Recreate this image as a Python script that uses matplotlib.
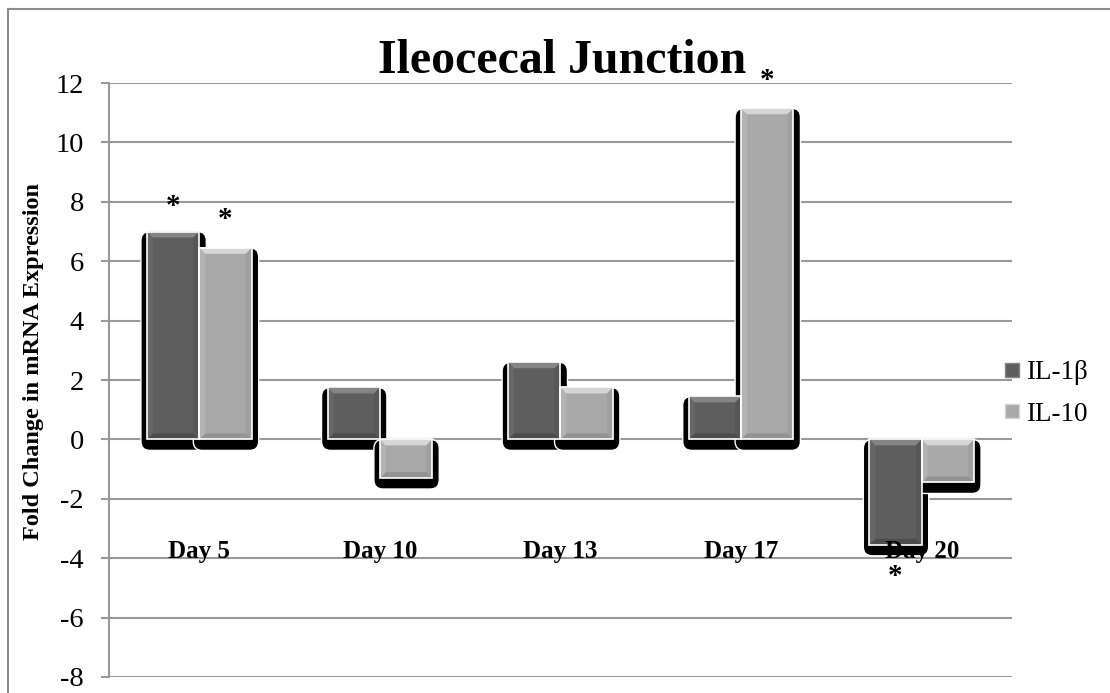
import numpy as np
import matplotlib.pyplot as plt
from matplotlib.patches import Rectangle, Polygon, FancyBboxPatch
from matplotlib.lines import Line2D

plt.rc('font', family='Liberation Serif')
plt.rc('axes', unicode_minus=False)

days = ['Day 5', 'Day 10', 'Day 13', 'Day 17', 'Day 20']
il1b = [7.0, 1.75, 2.6, 1.45, -3.55]
il10 = [6.45, -1.3, 1.75, 11.15, -1.45]
series_names = ['IL-1\u03b2', 'IL-10']
# asterisks: (category index, series index, y position)
stars = [(0, 0, 7.85), (0, 1, 7.4), (3, 1, 12.1), (4, 0, -4.6)]

# main, light bevel, dark bevel
colors = [('#5e5e5e', '#858585', '#4c4c4c'), ('#a8a8a8', '#d6d6d6', '#939393')]

fig = plt.figure(figsize=(11.1, 6.93), dpi=100)
ax = fig.add_axes([0.0982, 0.0231, 0.8135, 0.8571])
ax.set_xlim(0, 5)
ax.set_ylim(-8, 12)

# pixel -> data unit helpers
px_x = 5 / 903.0
px_y = 20 / 594.0

bw = 0.29
offs = [-0.145, 0.145]
x = np.arange(len(days)) + 0.5

ax.set_yticks(np.arange(-8, 13, 2))
ax.set_xticks([])
ax.yaxis.grid(True, color='#999999', linewidth=1.5, zorder=0)
ax.set_axisbelow(True)
for s in ['top', 'right', 'bottom']:
    ax.spines[s].set_visible(False)
ax.spines['left'].set_color('#999999')
ax.spines['left'].set_linewidth(1.5)
ax.tick_params(axis='y', length=6, width=1.5, color='#999999', pad=12, labelsize=20.5)

# shadows first
for si, vals in enumerate([il1b, il10]):
    for i, v in enumerate(vals):
        x0 = x[i] + offs[si] - bw / 2
        lo, hi = min(0, v), max(0, v)
        sh = FancyBboxPatch((x0 - 6 * px_x, lo - 11 * px_y), bw + 13 * px_x, hi - lo + 11 * px_y,
                            boxstyle='round,pad=0,rounding_size=%f' % (9 * px_x),
                            mutation_aspect=px_y / px_x,
                            facecolor='black', edgecolor='white', linewidth=1.0, zorder=2)
        ax.add_patch(sh)

# bars with a simple bevel
for si, vals in enumerate([il1b, il10]):
    main, light, dark = colors[si]
    for i, v in enumerate(vals):
        x0 = x[i] + offs[si] - bw / 2
        x1 = x0 + bw
        lo, hi = min(0, v), max(0, v)
        dx, dy = 6 * px_x, 6 * px_y
        ax.add_patch(Rectangle((x0, lo), bw, hi - lo, facecolor=main, edgecolor='none', zorder=3))
        ax.add_patch(Polygon([(x0, hi), (x1, hi), (x1 - dx, hi - dy), (x0 + dx, hi - dy)],
                             facecolor=light, edgecolor='none', zorder=3))
        ax.add_patch(Polygon([(x0, lo), (x1, lo), (x1 - dx, lo + dy), (x0 + dx, lo + dy)],
                             facecolor=dark, edgecolor='none', zorder=3))
        ax.add_patch(Polygon([(x1, lo), (x1, hi), (x1 - dx, hi - dy), (x1 - dx, lo + dy)],
                             facecolor=dark, edgecolor='none', alpha=0.35, zorder=3))
        ax.add_patch(Polygon([(x0, lo), (x0, hi), (x0 + dx, hi - dy), (x0 + dx, lo + dy)],
                             facecolor=light, edgecolor='none', alpha=0.25, zorder=3))
        ax.add_patch(Rectangle((x0, lo), bw, hi - lo, facecolor='none', edgecolor='white',
                               linewidth=1.2, zorder=4))

# category labels inside the plot
for i, d in enumerate(days):
    ax.text(x[i], -4.0, d, ha='center', va='baseline', fontsize=18, fontweight='bold', zorder=5)

for ci, si, yv in stars:
    ax.text(x[ci] + offs[si], yv, '*', ha='center', va='center', fontsize=21, fontweight='bold', zorder=5)

fig.text(0.506, 0.8947, 'Ileocecal Junction', ha='center', va='baseline',
         fontsize=34.5, fontweight='bold')
fig.text(0.03, 0.478, 'Fold Change in mRNA Expression', rotation=90, ha='center', va='center',
         fontsize=17.5, fontweight='bold')

# legend
handles = [Line2D([], [], marker='s', linestyle='none', markersize=10,
                  markerfacecolor=colors[k][0], markeredgecolor=colors[k][1], markeredgewidth=1)
           for k in range(2)]
fig.legend(handles, series_names, loc='center left', bbox_to_anchor=(0.882, 0.432),
           frameon=False, fontsize=19.5, handlelength=0.6, handletextpad=0.25, labelspacing=0.6)

# outer chart border (left and top visible)
fig.add_artist(Line2D([0.0072, 0.0072], [0, 0.987], color='#8c8c8c', linewidth=1.5))
fig.add_artist(Line2D([0.0072, 1.0], [0.987, 0.987], color='#8c8c8c', linewidth=1.5))

fig.savefig('out.png', dpi=100)
